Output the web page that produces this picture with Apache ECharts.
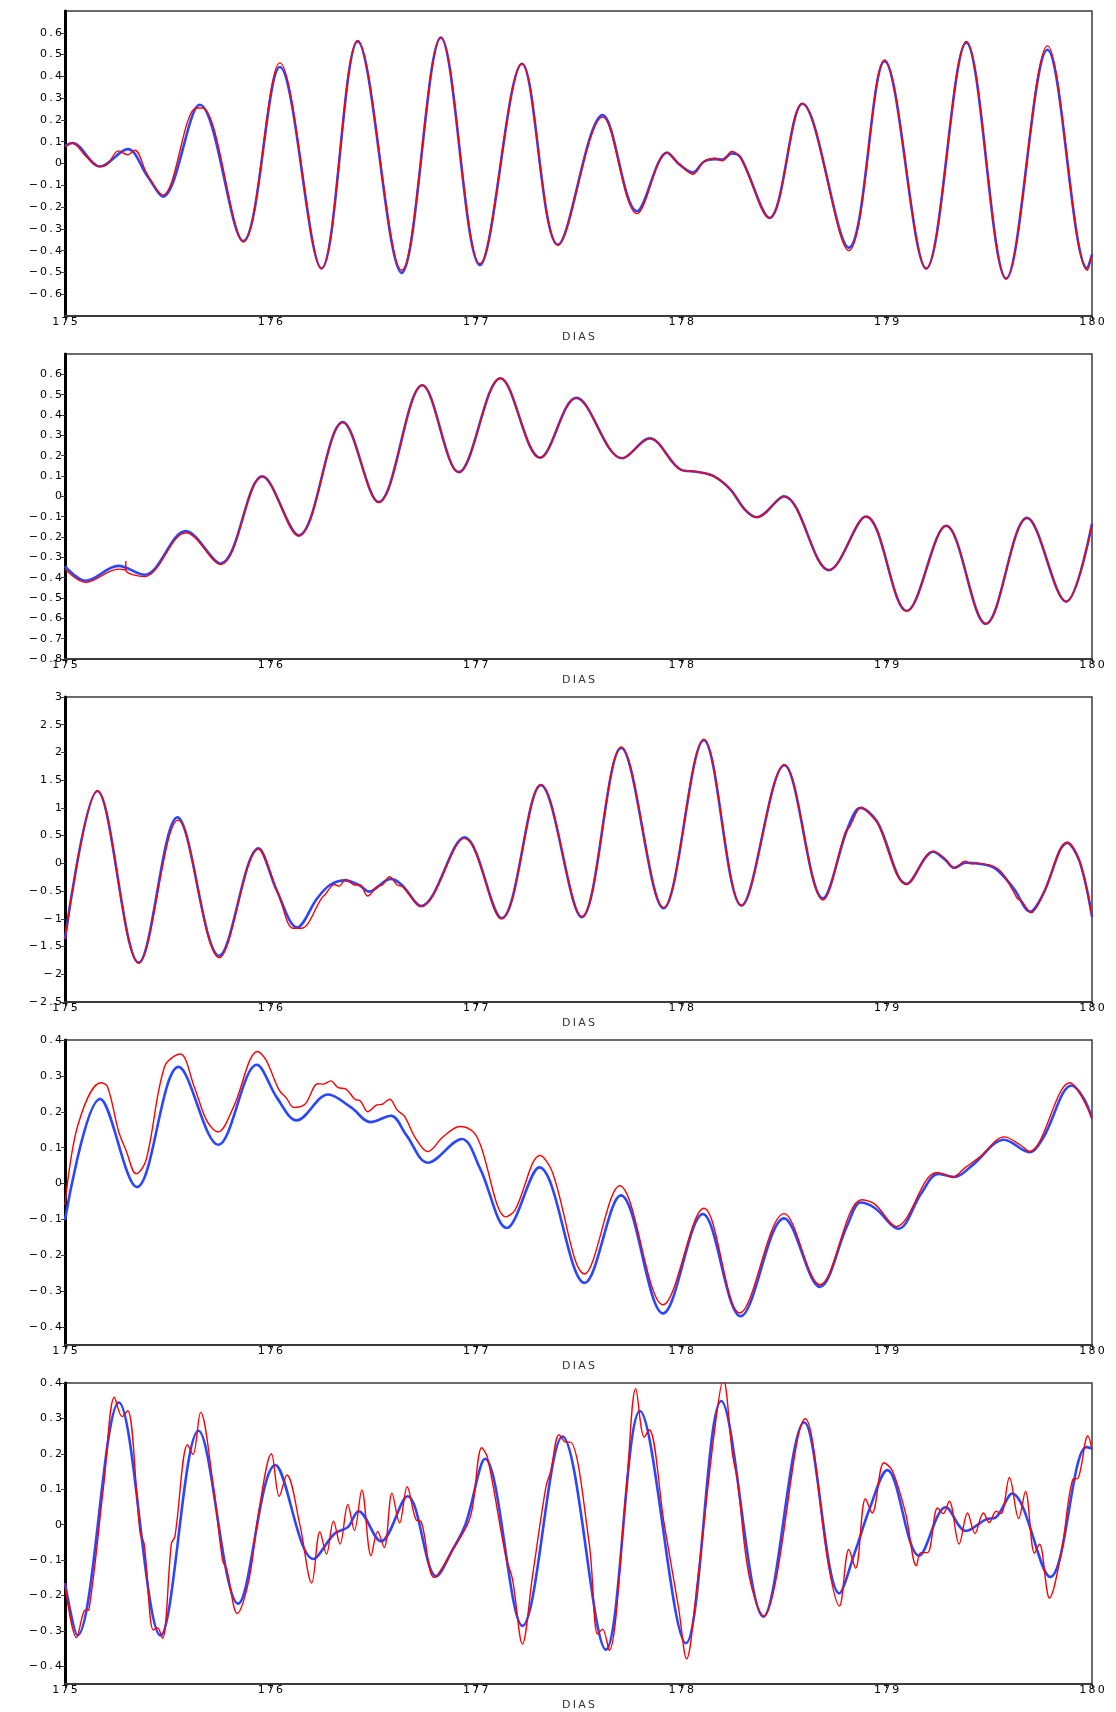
<!DOCTYPE html>
<html>
<head>
<meta charset="utf-8">
<title>DIAS</title>
<script src="https://cdn.jsdelivr.net/npm/echarts@6/dist/echarts.min.js"></script>
<style>
  *{margin:0;padding:0;}
  body{background:#fff;}
  #main{width:1116px;height:1712px;}
</style>
</head>
<body>
<div id="main"></div>
<script>
// x = dia, y = valor
var dayTicks = [175, 176, 177, 178, 179, 180];
var smallTicks = [-0.4, -0.3, -0.2, -0.1, 0, 0.1, 0.2, 0.3, 0.4];

// painel 1
var p1Blue = [[175.0,0.08],[175.036,0.094],[175.17,-0.014],[175.305,0.066],[175.40,-0.056],[175.476,-0.152],
  [175.656,0.27],[175.868,-0.356],[176.046,0.443],[176.249,-0.482],[176.425,0.56],[176.639,-0.502],
  [176.83,0.578],[177.02,-0.467],[177.225,0.458],[177.40,-0.373],[177.618,0.222],[177.785,-0.219],
  [177.932,0.05],[177.99,-0.003],[178.057,-0.041],[178.11,0.008],[178.165,0.02],[178.20,0.018],
  [178.246,0.046],[178.29,0.027],[178.43,-0.25],[178.59,0.274],[178.816,-0.386],[178.99,0.47],
  [179.193,-0.482],[179.388,0.555],[179.582,-0.528],[179.783,0.522],[179.977,-0.482],[180.0,-0.417]];
var p1Red = [[175.0,0.075],[175.036,0.094],[175.10,0.035],[175.17,-0.014],[175.207,-0.003],[175.26,0.058],
  [175.305,0.04],[175.34,0.061],[175.40,-0.05],[175.476,-0.145],[175.64,0.255],[175.67,0.255],
  [175.868,-0.36],[176.046,0.462],[176.249,-0.482],[176.425,0.565],[176.639,-0.49],[176.83,0.578],
  [177.02,-0.46],[177.225,0.458],[177.40,-0.373],[177.618,0.213],[177.785,-0.23],[177.932,0.05],
  [177.99,-0.003],[178.057,-0.049],[178.11,0.008],[178.165,0.024],[178.20,0.012],[178.246,0.055],
  [178.29,0.025],[178.43,-0.25],[178.59,0.276],[178.816,-0.40],
  [178.99,0.475],[179.193,-0.482],[179.388,0.56],[179.582,-0.53],[179.783,0.54],[179.977,-0.49],[180.0,-0.417]];

// painel 2
var p2Blue = [[175.0,-0.345],[175.099,-0.415],[175.26,-0.342],[175.386,-0.386],[175.588,-0.171],[175.757,-0.33],
  [175.961,0.098],[176.137,-0.192],[176.353,0.365],[176.527,-0.028],[176.74,0.546],[176.917,0.119],
  [177.12,0.581],[177.313,0.19],[177.489,0.484],[177.713,0.187],[177.846,0.285],[178.0,0.13],
  [178.08,0.12],[178.16,0.098],[178.24,0.033],[178.31,-0.065],[178.368,-0.103],[178.5,0.0],
  [178.72,-0.363],[178.9,-0.099],[179.098,-0.564],[179.29,-0.145],[179.483,-0.627],[179.684,-0.106],
  [179.874,-0.518],[180.0,-0.135]];
var p2Red = [[175.0,-0.358],[175.099,-0.423],[175.26,-0.358],[175.296,-0.362],[175.296,-0.318],[175.297,-0.364],
  [175.386,-0.395],[175.588,-0.179],[175.757,-0.335],[175.961,0.098],[176.137,-0.195],[176.353,0.365],
  [176.527,-0.03],[176.74,0.546],[176.917,0.117],[177.12,0.581],[177.313,0.19],[177.489,0.484],
  [177.713,0.187],[177.846,0.285],[178.0,0.13],[178.08,0.12],[178.16,0.098],[178.24,0.033],
  [178.31,-0.065],[178.368,-0.103],[178.5,0.0],[178.72,-0.363],[178.9,-0.099],[179.098,-0.564],
  [179.29,-0.145],[179.483,-0.627],[179.684,-0.106],[179.874,-0.518],[180.0,-0.135]];

// painel 3
var p3Blue = [[175.0,-1.364],[175.158,1.304],[175.359,-1.79],[175.547,0.83],[175.751,-1.665],[175.942,0.27],
  [176.03,-0.48],[176.13,-1.154],[176.228,-0.63],[176.29,-0.39],[176.364,-0.306],[176.435,-0.40],
  [176.48,-0.51],[176.585,-0.28],[176.64,-0.39],[176.733,-0.77],[176.945,0.47],[177.125,-0.99],
  [177.317,1.41],[177.516,-0.97],[177.708,2.08],[177.914,-0.81],[178.11,2.22],[178.294,-0.76],
  [178.502,1.77],[178.69,-0.63],[178.81,0.63],[178.873,1.0],[178.954,0.75],[179.098,-0.37],
  [179.227,0.21],[179.286,0.06],[179.33,-0.08],[179.385,0.01],[179.44,0.0],[179.528,-0.09],
  [179.618,-0.45],[179.699,-0.87],[179.76,-0.57],[179.88,0.37],[179.94,0.03],[180.0,-0.96]];
var p3Red = [[175.0,-1.364],[175.158,1.304],[175.359,-1.80],[175.55,0.78],[175.751,-1.70],[175.942,0.26],
  [176.04,-0.57],[176.11,-1.17],[176.15,-1.17],[176.249,-0.63],[176.267,-0.56],[176.312,-0.38],
  [176.335,-0.41],[176.366,-0.29],[176.41,-0.39],[176.437,-0.39],[176.473,-0.59],[176.518,-0.42],
  [176.545,-0.39],[176.58,-0.24],[176.617,-0.39],[176.644,-0.42],[176.733,-0.78],[176.945,0.45],
  [177.125,-1.0],[177.317,1.42],[177.516,-0.96],[177.708,2.1],[177.914,-0.8],[178.11,2.24],
  [178.294,-0.76],[178.502,1.78],[178.69,-0.66],[178.80,0.57],[178.82,0.66],[178.877,1.01],
  [178.945,0.78],[178.958,0.72],[179.098,-0.38],[179.227,0.22],[179.286,0.08],[179.33,-0.09],
  [179.382,0.04],[179.414,-0.01],[179.44,0.0],[179.546,-0.11],[179.618,-0.51],[179.636,-0.63],
  [179.66,-0.69],[179.703,-0.89],[179.76,-0.57],[179.88,0.38],[179.94,0.03],[180.0,-0.96]];

// painel 4
var p4Blue = [[175.0,-0.101],[175.171,0.236],[175.35,-0.01],[175.553,0.325],[175.746,0.108],[175.934,0.331],
  [176.033,0.238],[176.128,0.176],[176.281,0.248],[176.393,0.212],[176.488,0.171],[176.587,0.189],
  [176.662,0.135],[176.766,0.058],[176.932,0.124],[177.02,0.043],[177.151,-0.124],[177.309,0.045],
  [177.53,-0.277],[177.706,-0.033],[177.912,-0.362],[178.105,-0.085],[178.289,-0.37],[178.501,-0.097],
  [178.675,-0.288],[178.81,-0.115],[178.873,-0.053],[178.944,-0.069],[179.057,-0.126],[179.169,-0.027],
  [179.25,0.027],[179.33,0.018],[179.42,0.052],[179.573,0.122],[179.695,0.087],[179.761,0.126],
  [179.901,0.273],[179.959,0.238],[180.0,0.182]];
var p4Red = [[175.0,-0.06],[175.063,0.163],[175.174,0.281],[175.207,0.27],[175.261,0.145],[175.296,0.094],
  [175.347,0.027],[175.395,0.066],[175.485,0.326],[175.561,0.361],[175.629,0.27],[175.692,0.173],
  [175.746,0.144],[175.818,0.21],[175.938,0.368],[175.979,0.344],[176.042,0.261],[176.078,0.238],
  [176.114,0.212],[176.168,0.221],[176.231,0.278],[176.258,0.277],[176.294,0.286],[176.33,0.267],
  [176.366,0.264],[176.411,0.235],[176.438,0.23],[176.474,0.2],[176.518,0.219],[176.545,0.221],
  [176.581,0.235],[176.617,0.205],[176.653,0.187],[176.707,0.126],[176.766,0.089],[176.842,0.131],
  [176.923,0.159],[176.986,0.145],[177.022,0.108],[177.147,-0.093],[177.192,-0.073],[177.313,0.078],
  [177.372,0.033],[177.53,-0.252],[177.70,-0.006],[177.912,-0.338],[178.11,-0.069],[178.285,-0.361],
  [178.501,-0.084],[178.675,-0.282],[178.878,-0.045],[178.944,-0.058],[179.047,-0.12],[179.241,0.03],
  [179.276,0.027],[179.321,0.018],[179.384,0.045],[179.456,0.075],[179.573,0.13],[179.654,0.106],
  [179.695,0.089],[179.892,0.281],[180.0,0.182]];

// painel 5
var p5Blue = [[175.0,-0.165],[175.061,-0.313],[175.262,0.345],[175.465,-0.313],[175.65,0.265],[175.843,-0.223],
  [176.024,0.168],[176.209,-0.097],[176.313,-0.025],[176.377,-0.007],[176.429,0.038],[176.538,-0.047],
  [176.668,0.08],[176.808,-0.146],[176.886,-0.072],[176.951,0.003],[177.045,0.186],[177.227,-0.286],
  [177.422,0.249],[177.633,-0.353],[177.799,0.321],[178.023,-0.335],[178.195,0.349],[178.4,-0.26],
  [178.599,0.289],[178.77,-0.194],[178.849,-0.072],[178.914,0.04],[179.003,0.154],[179.158,-0.088],
  [179.288,0.049],[179.386,-0.018],[179.484,0.015],[179.533,0.021],[179.611,0.088],[179.796,-0.148],
  [179.972,0.219],[180.0,0.215]];
var p5Red = [[175.0,-0.165],[175.056,-0.319],[175.093,-0.244],[175.117,-0.239],[175.189,0.114],[175.241,0.36],
  [175.278,0.305],[175.305,0.322],[175.366,-0.025],[175.385,-0.053],[175.43,-0.298],[175.449,-0.291],
  [175.475,-0.321],[175.518,-0.053],[175.535,-0.034],[175.597,0.226],[175.623,0.198],[175.66,0.317],
  [175.722,0.11],[175.767,-0.1],[175.787,-0.126],[175.839,-0.251],[175.896,-0.155],[175.944,0.04],
  [176.005,0.2],[176.043,0.08],[176.08,0.14],[176.144,-0.002],[176.201,-0.165],[176.241,-0.02],
  [176.273,-0.083],[176.307,0.01],[176.339,-0.055],[176.377,0.057],[176.409,-0.016],[176.445,0.098],
  [176.49,-0.088],[176.522,-0.019],[176.554,-0.065],[176.592,0.089],[176.629,0.005],[176.666,0.107],
  [176.711,0.012],[176.732,0.01],[176.797,-0.149],[176.886,-0.072],[176.959,0.0],[176.984,0.049],
  [177.029,0.217],[177.057,0.189],[177.146,-0.09],[177.179,-0.155],[177.227,-0.337],[177.276,-0.146],
  [177.341,0.105],[177.365,0.152],[177.406,0.254],[177.438,0.233],[177.459,0.233],[177.552,-0.053],
  [177.593,-0.309],[177.617,-0.295],[177.649,-0.355],[177.731,0.087],[177.779,0.384],[177.82,0.247],
  [177.844,0.268],[177.917,0.003],[177.987,-0.234],[178.026,-0.379],[178.08,-0.155],[178.161,0.259],
  [178.205,0.41],[178.25,0.198],[178.274,0.124],[178.331,-0.146],[178.404,-0.258],[178.458,-0.165],
  [178.604,0.299],[178.718,-0.118],[178.77,-0.23],[178.816,-0.07],[178.849,-0.123],[178.897,0.073],
  [178.93,0.033],[178.987,0.175],[179.028,0.152],[179.093,0.031],[179.145,-0.116],[179.166,-0.079],
  [179.199,-0.079],[179.248,0.047],[179.275,0.031],[179.305,0.066],[179.353,-0.055],[179.394,0.033],
  [179.43,-0.025],[179.471,0.033],[179.5,0.006],[179.533,0.038],[179.557,0.031],[179.598,0.133],
  [179.643,0.017],[179.676,0.094],[179.72,-0.081],[179.744,-0.055],[179.793,-0.207],[179.85,-0.081],
  [179.907,0.128],[179.932,0.131],[179.98,0.251],[180.0,0.212]];

var blueSets = [p1Blue, p2Blue, p3Blue, p4Blue, p5Blue];
var redSets = [p1Red, p2Red, p3Red, p4Red, p5Red];

// eixo y de cada painel: [min, max, intervalo]
var yRange = [[-0.7, 0.7, 0.1], [-0.8, 0.7, 0.1], [-2.5, 3, 0.5], [-0.45, 0.4, 0.1], [-0.45, 0.4, 0.1]];

function spaced(s) {
    return s.split('').join('\u2009');
}
function fmtVal(v) {
    var s = String(Math.round(v * 100) / 100);
    return spaced(s.replace('-', '\u2212'));
}

var myChart = echarts.init(document.getElementById('main'));
var grids = [], xAxes = [], yAxes = [], series = [];
var tops = [11, 354, 697, 1040, 1383];

for (var i = 0; i < 5; i++) {
    grids.push({
        left: 65, right: 24, top: tops[i], height: 305,
        show: true, borderColor: '#3a3a3a', borderWidth: 1.5, backgroundColor: '#fff'
    });
    xAxes.push({
        gridIndex: i, type: 'value', min: 175, max: 180, interval: 1,
        name: spaced('DIAS'), nameLocation: 'middle', nameGap: 16,
        nameTextStyle: {color: '#333', fontSize: 11, fontFamily: 'DejaVu Sans'},
        axisLine: {show: true, onZero: false, lineStyle: {color: '#3a3a3a', width: 2}},
        axisTick: {show: true, length: 4, lineStyle: {color: '#222'}},
        axisLabel: {margin: 1, fontSize: 11, fontFamily: 'DejaVu Sans', color: '#000',
            formatter: function (v) { return spaced(String(v)); }},
        splitLine: {show: false}
    });
    var r = yRange[i];
    var y = {
        gridIndex: i, type: 'value', min: r[0], max: r[1],
        axisLine: {show: true, onZero: false, lineStyle: {color: '#000', width: 3}},
        axisTick: {show: true, length: 4, lineStyle: {color: '#444', width: 1}},
        axisLabel: {margin: 3, fontSize: 11, fontFamily: 'DejaVu Sans', color: '#000', formatter: fmtVal},
        splitLine: {show: false}
    };
    if (i < 3) {
        y.interval = r[2];
        y.axisLabel.showMinLabel = (i >= 1);
        y.axisLabel.showMaxLabel = (i === 2);
    } else {
        y.axisLabel.customValues = smallTicks;
        y.axisTick.customValues = smallTicks;
    }
    yAxes.push(y);

    series.push({
        type: 'line', xAxisIndex: i, yAxisIndex: i, data: blueSets[i],
        showSymbol: false, smooth: 0.35, clip: true,
        lineStyle: {color: '#2b46ff', width: 2.6}
    });
    series.push({
        type: 'line', xAxisIndex: i, yAxisIndex: i, data: redSets[i],
        showSymbol: false, smooth: 0.35, clip: true,
        lineStyle: {color: '#ff0000', width: 1.4}
    });
}

var option = {
    animation: false,
    backgroundColor: '#fff',
    grid: grids,
    xAxis: xAxes,
    yAxis: yAxes,
    series: series
};
myChart.setOption(option);
</script>
</body>
</html>
